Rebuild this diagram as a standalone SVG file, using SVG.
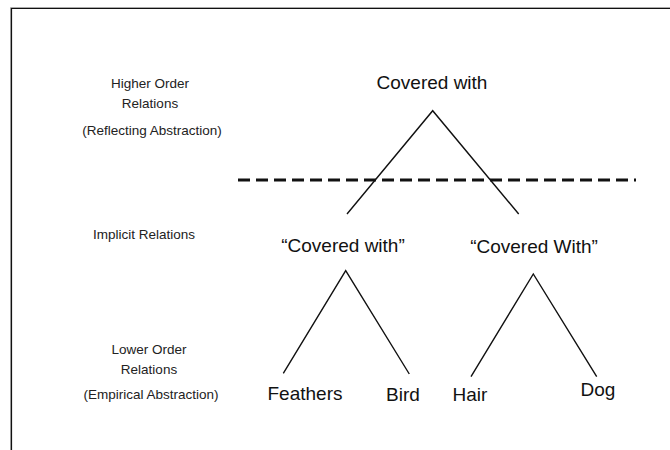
<svg xmlns="http://www.w3.org/2000/svg" width="670" height="450" viewBox="0 0 670 450">
<style>
.lbl{font-family:"Liberation Sans",Arial,sans-serif;font-size:13.5px;fill:#222;text-anchor:middle}
.node{font-family:"Liberation Sans",Arial,sans-serif;font-size:19px;fill:#111;text-anchor:middle}
.edge{stroke:#111;stroke-width:1.4;fill:none}
</style>
<rect x="0" y="0" width="670" height="450" fill="#fff"/>
<g id="frame">
<path d="M10.5 450 V7.5 H670" stroke="#aaa" stroke-width="1" fill="none"/>
<path d="M11.5 450 V8.5 H670" stroke="#111" stroke-width="1.2" fill="none"/>
</g>
<g id="levels">
<text class="lbl" x="150" y="88">Higher Order</text>
<text class="lbl" x="150" y="108">Relations</text>
<text class="lbl" x="152" y="135">(Reflecting Abstraction)</text>
<text class="lbl" x="144" y="239">Implicit Relations</text>
<text class="lbl" x="149" y="354">Lower Order</text>
<text class="lbl" x="149" y="374">Relations</text>
<text class="lbl" x="151" y="399">(Empirical Abstraction)</text>
</g>
<g id="divider">
<line x1="238" y1="180" x2="636" y2="180" stroke="#111" stroke-width="3" stroke-dasharray="12 6"/>
</g>
<g id="n-top"><text class="node" x="432" y="89">Covered with</text></g>
<g id="n-left"><text class="node" x="343" y="252">“Covered with”</text></g>
<g id="n-right"><text class="node" x="534" y="253">“Covered With”</text></g>
<g id="n-feathers"><text class="node" x="305" y="400">Feathers</text></g>
<g id="n-bird"><text class="node" x="403" y="401">Bird</text></g>
<g id="n-hair"><text class="node" x="470" y="401">Hair</text></g>
<g id="n-dog"><text class="node" x="598" y="396">Dog</text></g>
<g id="connectors">
<polyline class="edge" points="347,214 432.7,110.7 518.7,214"/>
<polyline class="edge" points="283.3,373.3 345.7,270.7 409.3,374"/>
<polyline class="edge" points="471,376.7 533.3,274 596.7,376.7"/>
</g>
</svg>
